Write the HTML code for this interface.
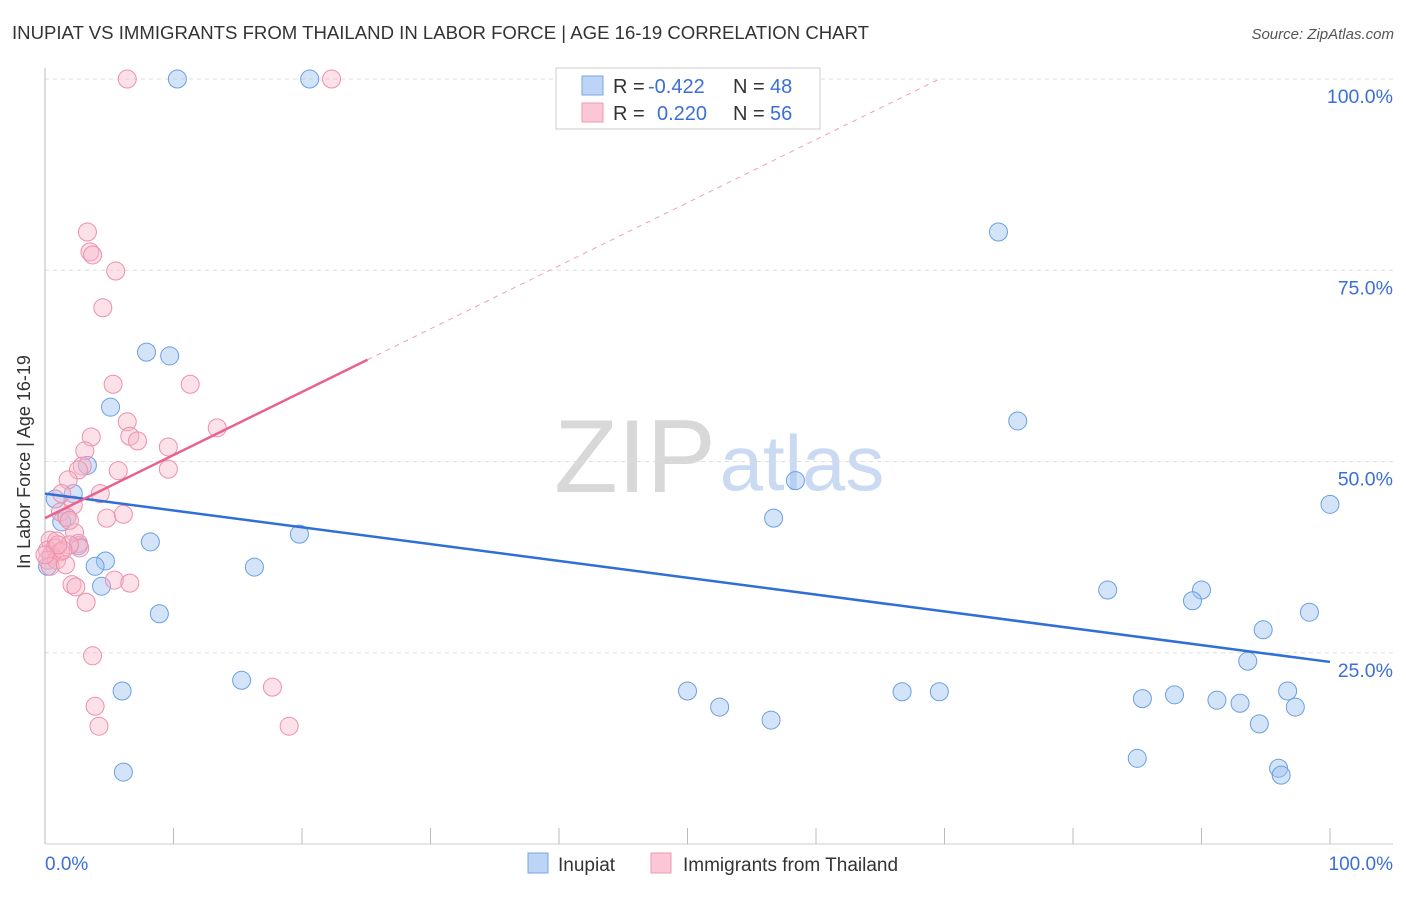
<!DOCTYPE html>
<html><head><meta charset="utf-8"><style>
body{margin:0;background:#fff;font-family:"Liberation Sans",sans-serif;}
svg text{font-family:"Liberation Sans",sans-serif;}
</style></head><body>
<svg id="c" width="1406" height="892" xmlns="http://www.w3.org/2000/svg">
<text x="12" y="39" font-size="18" fill="#333" textLength="857" lengthAdjust="spacingAndGlyphs">INUPIAT VS IMMIGRANTS FROM THAILAND IN LABOR FORCE | AGE 16-19 CORRELATION CHART</text>
<text x="1394" y="39" font-size="15" fill="#555" font-style="italic" text-anchor="end">Source: ZipAtlas.com</text>
<text x="24" y="456" font-size="18" fill="#333" text-anchor="middle" transform="rotate(-90 30 456)">In Labor Force | Age 16-19</text>
<g><text x="635" y="492" font-size="104" fill="#d8d8d8" font-family="Liberation Serif" text-anchor="middle">ZIP</text><text x="802" y="490" font-size="78" fill="#c9daf2" text-anchor="middle">atlas</text></g>
<g id="grid"></g><g id="marks"></g>
<g>
<rect x="556" y="68" width="264" height="61" fill="#fff" stroke="#ccc"/>
<rect x="582" y="76" width="21" height="19" fill="#bcd4f5" stroke="#7aa6e3"/>
<rect x="582" y="103" width="21" height="19" fill="#fbc6d5" stroke="#ee9ab3"/>
<text x="613" y="93" font-size="20" fill="#333">R =</text><text x="648" y="93" font-size="20" fill="#3b6fd6">-0.422</text>
<text x="733" y="93" font-size="20" fill="#333">N =</text><text x="770" y="93" font-size="20" fill="#3b6fd6">48</text>
<text x="613" y="120" font-size="20" fill="#333">R =</text><text x="657" y="120" font-size="20" fill="#3b6fd6">0.220</text>
<text x="733" y="120" font-size="20" fill="#333">N =</text><text x="770" y="120" font-size="20" fill="#3b6fd6">56</text>
</g>
<g>
<rect x="528" y="853" width="20" height="20" fill="#bcd4f5" stroke="#7aa6e3"/>
<text x="558" y="871" font-size="19" fill="#333">Inupiat</text>
<rect x="651" y="853" width="20" height="20" fill="#fbc6d5" stroke="#ee9ab3"/>
<text x="683" y="871" font-size="19" fill="#333">Immigrants from Thailand</text>
</g>
</svg>
<script>
const yTicks=[100,75,50,25];
const yTickLabels=["100.0%","75.0%","50.0%","25.0%"];
const xTickLabels=["0.0%","100.0%"];
const blueX=[10.3,20.6,74.2,7.9,9.7,5.1,75.7,3.3,58.4,2.2,0.8,1.7,1.3,56.7,100,8.2,19.8,2.6,4.7,3.9,16.3,4.4,0.2,82.7,90.0,89.3,8.9,98.4,94.8,93.6,6.0,15.3,50.0,66.7,69.6,52.5,56.5,85.4,87.9,91.2,93.0,96.7,97.3,94.5,6.1,85.0,96.0,96.2];
const blueY=[100,100,80.0,64.3,63.8,57.1,55.3,49.5,47.5,45.8,45.1,42.7,42.1,42.6,44.4,39.5,40.5,39.0,37.0,36.3,36.2,33.7,36.3,33.2,33.2,31.8,30.1,30.3,28.0,23.9,20.0,21.4,20.0,19.9,19.9,17.9,16.2,19.0,19.5,18.8,18.4,20.0,17.9,15.7,9.4,11.2,9.9,9.0];
const pinkX=[6.4,22.3,3.3,3.5,3.7,5.5,4.5,5.3,11.3,6.4,6.6,7.2,13.4,3.6,9.6,3.1,2.9,5.7,9.6,2.6,1.8,4.3,1.3,2.2,1.2,4.8,6.1,1.7,2.3,0.4,0.9,2.6,2.7,1.9,0.2,0.5,0.8,1.2,0.2,0.9,0.4,1.6,2.1,2.4,3.2,5.4,6.6,3.7,3.9,4.2,17.7,19.0,1.4,1.0,0,1.9];
const pinkY=[100,100,80.0,77.4,77.0,74.9,70.1,60.1,60.1,55.2,53.3,52.7,54.4,53.2,51.9,51.4,49.4,48.8,49.0,48.9,47.6,45.8,45.8,44.3,43.4,42.6,43.1,42.7,40.7,39.7,39.6,39.3,38.7,39.1,38.4,37.8,38.7,38.2,37.1,37.1,36.3,36.5,33.9,33.6,31.6,34.5,34.1,24.6,18.0,15.4,20.5,15.4,38.4,39.1,37.8,42.3];
const blueTrend=[45.8,23.8];
const pinkTrend=[42.6,63.3,25.1];
const NS="http://www.w3.org/2000/svg";
const sx=v=>45+v*12.85, sy=v=>844-v*7.65;
function mk(p,t,a){const e=document.createElementNS(NS,t);for(const k in a)e.setAttribute(k,a[k]);p.appendChild(e);return e;}
const g=document.getElementById('grid'),m=document.getElementById('marks');
yTicks.forEach((t,i)=>{
 const l=mk(g,'line',{x1:45,x2:1393,y1:sy(t),y2:sy(t),stroke:'#ddd','stroke-dasharray':'4,4'});
 
 
 const tx=mk(g,'text',{x:1393,y:sy(t)+24,'font-size':19.5,fill:'#3b6fd6','text-anchor':'end'});tx.textContent=yTickLabels[i];
 
 
});
mk(g,'line',{x1:45,x2:45,y1:68,y2:844,stroke:'#bbb'});
mk(g,'line',{x1:45,x2:1393,y1:844,y2:844,stroke:'#ccc'});
for(let i=0;i<=10;i++){const t=mk(g,'line',{x1:sx(i*10),x2:sx(i*10),y1:828,y2:844,stroke:'#bbb'});
 
 }
[[0,'start',45],[100,'end',1393]].forEach((d,i)=>{const tx=mk(g,'text',{x:d[2],y:870,'font-size':19,fill:'#3b6fd6','text-anchor':d[1]});tx.textContent=xTickLabels[i];
 
 });
blueX.forEach((x,i)=>{const c=mk(m,'circle',{cx:sx(x),cy:sy(blueY[i]),r:9,fill:'rgba(160,196,240,0.45)',stroke:'#6a9fe0','stroke-width':1});
 
 });
pinkX.forEach((x,i)=>{const c=mk(m,'circle',{cx:sx(x),cy:sy(pinkY[i]),r:9,fill:'rgba(248,180,200,0.4)',stroke:'#ee8fab','stroke-width':1});
 
 });
const bl=mk(m,'line',{x1:sx(0),y1:sy(blueTrend[0]),x2:sx(100),y2:sy(blueTrend[1]),stroke:'#2f6fd6','stroke-width':2.5});


const slope=(pinkTrend[1]-pinkTrend[0])/pinkTrend[2];
const pl=mk(m,'line',{x1:sx(0),y1:sy(pinkTrend[0]),x2:sx(pinkTrend[2]),y2:sy(pinkTrend[1]),stroke:'#e8628e','stroke-width':2.5});


const xe=(100-pinkTrend[0])/slope;
const pd=mk(m,'line',{x1:sx(pinkTrend[2]),y1:sy(pinkTrend[1]),x2:sx(xe),y2:sy(100),stroke:'#f0a0b8','stroke-width':1,'stroke-dasharray':'5,5'});


</script>
</body></html>
